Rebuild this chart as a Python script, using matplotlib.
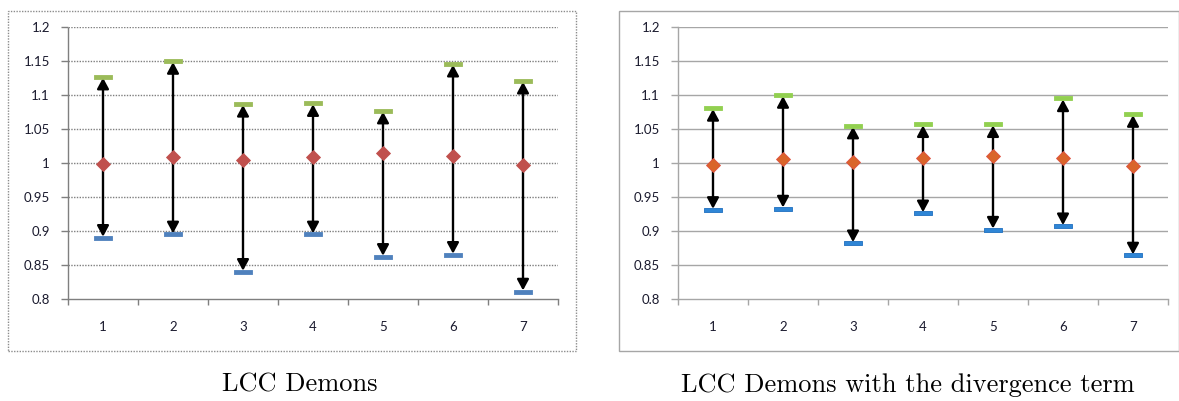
import matplotlib
matplotlib.use("Agg")
import matplotlib.pyplot as plt
from matplotlib.patches import Rectangle

# ---- data ----
categories = [1, 2, 3, 4, 5, 6, 7]
tick_labels = ["1", "2", "3", "4", "5", "6", "7"]

lcc_max = [1.127, 1.150, 1.087, 1.088, 1.077, 1.146, 1.121]
lcc_mean = [0.998, 1.009, 1.004, 1.009, 1.015, 1.010, 0.997]
lcc_min = [0.890, 0.895, 0.840, 0.895, 0.862, 0.865, 0.811]

div_max = [1.081, 1.100, 1.055, 1.057, 1.057, 1.095, 1.072]
div_mean = [0.997, 1.006, 1.002, 1.007, 1.011, 1.007, 0.995]
div_min = [0.931, 0.933, 0.882, 0.926, 0.902, 0.907, 0.864]

titles = ["LCC Demons", "LCC Demons with the divergence term"]

W, H = 1179, 401
fig = plt.figure(figsize=(W / 100, H / 100), dpi=100)


def px_axes(x0, x1, ytop, ybot):
    return [x0 / W, (H - ybot) / H, (x1 - x0) / W, (ybot - ytop) / H]


bar_marker = [(-1, -0.24), (1, -0.24), (1, 0.24), (-1, 0.24), (-1, -0.24)]

panels = [
    dict(box=(8, 576), ax=(68, 558), data=(lcc_max, lcc_mean, lcc_min),
         grid_ls=(0, (1, 1)), grid_c="#7f7f7f", box_ls=(0, (1, 1)), box_c="#8c8c8c",
         green="#9BBB59", red="#C0504D", blue="#4F81BD", redge="#C0504D",
         gedge="#9BBB59", bedge="#4F81BD", title_x=300, title=titles[0]),
    dict(box=(619, 1178.5), ax=(678, 1168), data=(div_max, div_mean, div_min),
         grid_ls="-", grid_c="#a6a6a6", box_ls="-", box_c="#a6a6a6",
         green="#92D050", red="#D9652B", blue="#2F86D6", redge="#E05040",
         gedge="#92D050", bedge="#1F6FBF", title_x=908, title=titles[1]),
]

for p in panels:
    bx0, bx1 = p["box"]
    fig.patches.append(Rectangle((bx0 / W, (H - 351) / H), (bx1 - bx0) / W, (351 - 11) / H,
                                 transform=fig.transFigure, fill=False,
                                 edgecolor=p["box_c"], linewidth=1.0,
                                 linestyle=p["box_ls"], zorder=0))
    ax = fig.add_axes(px_axes(p["ax"][0], p["ax"][1], 27, 299))
    ax.set_xlim(0.5, 7.5)
    ax.set_ylim(0.8, 1.2)
    yt = [0.8, 0.85, 0.9, 0.95, 1.0, 1.05, 1.1, 1.15, 1.2]
    ax.set_yticks(yt)
    ax.set_yticklabels(["0.8", "0.85", "0.9", "0.95", "1", "1.05", "1.1", "1.15", "1.2"])
    ax.set_xticks([c + 0.5 for c in [0] + categories])
    ax.set_xticklabels([])
    ax.set_xticks(categories, minor=True)
    ax.set_xticklabels(tick_labels, minor=True)
    ax.tick_params(axis="x", which="major", length=4, color=p["grid_c"], width=1)
    ax.tick_params(axis="x", which="minor", length=0, pad=16)
    ax.tick_params(axis="y", length=5, color=p["grid_c"], width=1, pad=8)
    for lab in ax.get_xticklabels(minor=True) + ax.get_yticklabels():
        lab.set_fontfamily("Lato")
        lab.set_fontsize(9.5)
        lab.set_color("#1a1a2e")
    for y in yt[1:]:
        ax.axhline(y, color=p["grid_c"], linestyle=p["grid_ls"], linewidth=1.0, zorder=1)
    for s in ["top", "right"]:
        ax.spines[s].set_visible(False)
    for s in ["left", "bottom"]:
        ax.spines[s].set_color(p["grid_c"])
        ax.spines[s].set_linewidth(1.0)
    ax.spines["left"].set_linestyle(p["grid_ls"])
    ax.set_facecolor("none")

    vmax, vmean, vmin = p["data"]
    for x, lo, hi in zip(categories, vmin, vmax):
        ax.annotate("", xy=(x, hi), xytext=(x, lo),
                    arrowprops=dict(arrowstyle="<|-|>,head_length=0.65,head_width=0.35",
                                    mutation_scale=10, color="black", lw=1.7,
                                    shrinkA=0.8, shrinkB=0.8),
                    zorder=3)
    ax.plot(categories, vmax, linestyle="none", marker=bar_marker, markersize=13,
            markerfacecolor=p["green"], markeredgecolor=p["gedge"], markeredgewidth=0.6, zorder=4)
    ax.plot(categories, vmin, linestyle="none", marker=bar_marker, markersize=13,
            markerfacecolor=p["blue"], markeredgecolor=p["bedge"], markeredgewidth=0.6, zorder=4)
    ax.plot(categories, vmean, linestyle="none", marker="D", markersize=7,
            markerfacecolor=p["red"], markeredgecolor=p["redge"], markeredgewidth=0.6, zorder=5)

    fig.text(p["title_x"] / W, (H - 385) / H, p["title"], family="cmr10",
             fontsize=19, ha="center", va="center")

fig.savefig("out.png", dpi=100)
